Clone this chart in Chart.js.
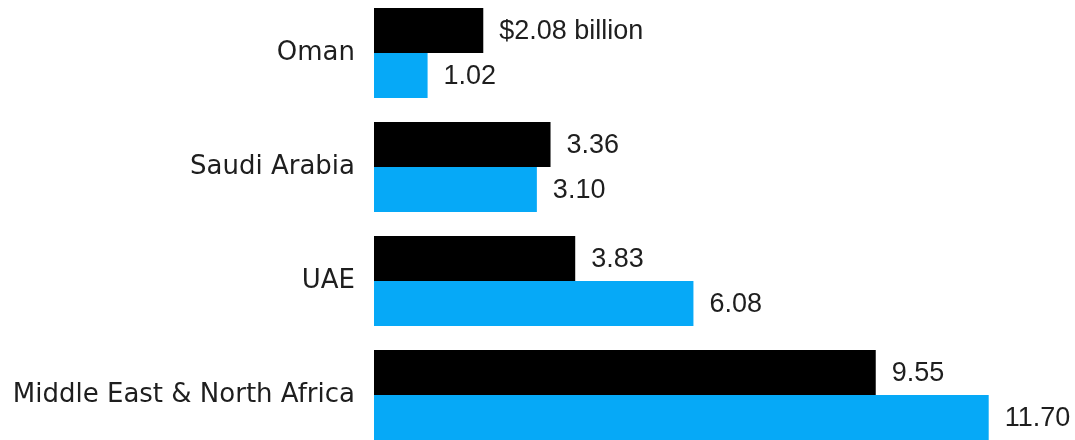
<!DOCTYPE html>
<html>
<head>
<meta charset="utf-8">
<script src="https://cdn.jsdelivr.net/npm/chart.js@4"></script>
<style>
  html, body { margin: 0; padding: 0; background: #fff; overflow: hidden; }
  #wrap { position: absolute; left: 0; top: -4px; width: 1075px; height: 456px; }
</style>
</head>
<body>
<div id="wrap"><canvas id="grafico"></canvas></div>
<script>
const paises = ['Oman', 'Saudi Arabia', 'UAE', 'Middle East & North Africa'];
const valoresPreto = [2.08, 3.36, 3.83, 9.55];
const valoresAzul = [1.02, 3.10, 6.08, 11.70];

const fonteEixo = '"DejaVu Sans", sans-serif';
const fonteValor = '"Liberation Sans", Arial, Helvetica, sans-serif';

// escreve o valor ao lado de cada barra
const rotulos = {
    id: 'rotulos',
    afterDatasetsDraw(chart) {
        const ctx = chart.ctx;
        ctx.save();
        ctx.font = '27px ' + fonteValor;
        ctx.fillStyle = '#1e1e1e';
        ctx.textBaseline = 'middle';
        ctx.textAlign = 'left';
        chart.data.datasets.forEach((ds, i) => {
            chart.getDatasetMeta(i).data.forEach((bar, j) => {
                let txt = ds.data[j].toFixed(2);
                if (i === 0 && j === 0) txt = '$' + txt + ' billion';
                ctx.fillText(txt, bar.x + 16, bar.y + 1);
            });
        });
        ctx.restore();
    }
};

new Chart(document.getElementById('grafico').getContext('2d'), {
    type: 'bar',
    data: {
        labels: paises,
        datasets: [
            {
                data: valoresPreto,
                backgroundColor: '#000000',
                categoryPercentage: 0.79,
                barPercentage: 1
            },
            {
                data: valoresAzul,
                backgroundColor: '#06a9f7',
                categoryPercentage: 0.79,
                barPercentage: 1
            }
        ]
    },
    options: {
        indexAxis: 'y',
        responsive: true,
        maintainAspectRatio: false,
        animation: false,
        layout: { padding: { left: 0, right: 18, top: 0, bottom: 0 } },
        plugins: {
            legend: { display: false },
            tooltip: { enabled: false }
        },
        scales: {
            x: {
                display: false,
                min: 0,
                max: 13
            },
            y: {
                grid: { display: false, drawTicks: false },
                border: { display: false },
                ticks: {
                    color: '#1e1e1e',
                    padding: 19,
                    font: { family: fonteEixo, size: 26 }
                },
                afterFit(scale) {
                    scale.width = 374;
                    scale.paddingTop = 0;
                    scale.paddingBottom = 0;
                }
            }
        }
    },
    plugins: [rotulos]
});
</script>
</body>
</html>
